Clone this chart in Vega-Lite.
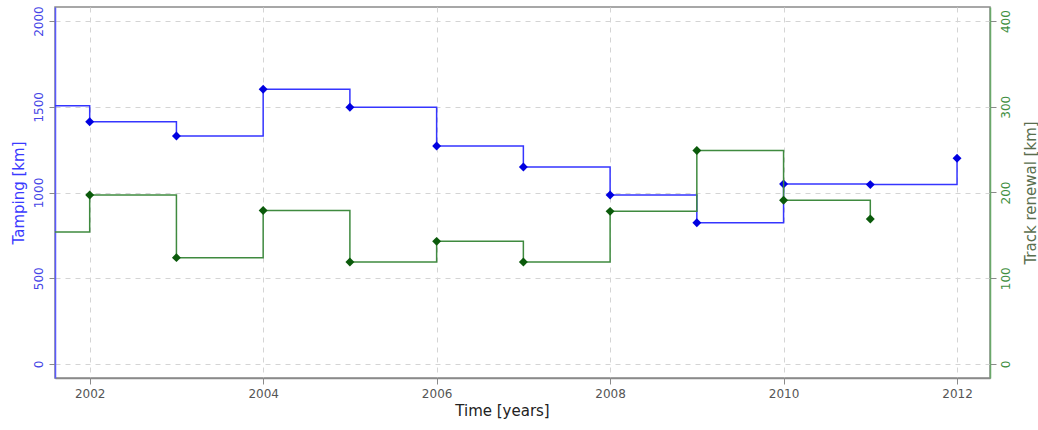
{
  "$schema": "https://vega.github.io/schema/vega-lite/v6.json",
  "width": 935,
  "height": 371,
  "autosize": {"type": "none"},
  "padding": {"left": 55, "top": 7, "right": 48, "bottom": 52},
  "background": "white",
  "config": {
    "font": "DejaVu Sans",
    "view": {"stroke": "#8a8a8a", "strokeWidth": 1.5},
    "axis": {
      "labelFontSize": 12,
      "titleFontSize": 15,
      "titleFontWeight": "normal",
      "tickColor": "#8a8a8a",
      "tickSize": 6,
      "gridColor": "#d4d4d4",
      "gridDash": [5, 5],
      "gridWidth": 1
    }
  },
  "data": {
    "values": [
      {"year": 2001, "tamping": 1506, "renewal": 154},
      {"year": 2002, "tamping": 1413, "renewal": 197},
      {"year": 2003, "tamping": 1330, "renewal": 124},
      {"year": 2004, "tamping": 1602, "renewal": 179},
      {"year": 2005, "tamping": 1497, "renewal": 119},
      {"year": 2006, "tamping": 1271, "renewal": 143},
      {"year": 2007, "tamping": 1149, "renewal": 119},
      {"year": 2008, "tamping": 985, "renewal": 178},
      {"year": 2009, "tamping": 824, "renewal": 249},
      {"year": 2010, "tamping": 1050, "renewal": 191},
      {"year": 2011, "tamping": 1046, "renewal": 169},
      {"year": 2012, "tamping": 1200, "renewal": null}
    ]
  },
  "encoding": {
    "x": {
      "field": "year",
      "type": "quantitative",
      "scale": {"domain": [2001.6, 2012.38], "nice": false, "zero": false},
      "axis": {
        "title": "Time [years]",
        "values": [2002, 2004, 2006, 2008, 2010, 2012],
        "format": "d",
        "labelColor": "#555555",
        "labelPadding": 4,
        "domainColor": "#8a8a8a",
        "domainWidth": 1.5,
        "titleColor": "#222222",
        "titlePadding": 4,
        "titleX": 447,
        "grid": true
      }
    }
  },
  "layer": [
    {
      "encoding": {
        "y": {
          "field": "tamping",
          "type": "quantitative",
          "scale": {"domain": [-82, 2082], "nice": false, "zero": false},
          "axis": {
            "orient": "left",
            "title": "Tamping [km]",
            "values": [0, 500, 1000, 1500, 2000],
            "format": "d",
            "labelAngle": -90,
            "labelAlign": "center",
            "labelBaseline": "bottom",
            "labelPadding": 4,
            "labelColor": "#4646e6",
            "domainColor": "#5a5aff",
            "domainWidth": 1.5,
            "titleColor": "#3a3aff",
            "titlePadding": 6,
            "grid": true
          }
        }
      },
      "layer": [
        {
          "mark": {"type": "line", "interpolate": "step-after", "color": "#3535ff", "strokeWidth": 1.5, "clip": true}
        },
        {
          "mark": {"type": "point", "shape": "diamond", "filled": true, "size": 80, "color": "#0000e0", "opacity": 1, "clip": true}
        }
      ]
    },
    {
      "transform": [{"filter": "isValid(datum.renewal)"}],
      "encoding": {
        "y": {
          "field": "renewal",
          "type": "quantitative",
          "scale": {"domain": [-16.4, 416.4], "nice": false, "zero": false},
          "axis": {
            "orient": "right",
            "title": "Track renewal [km]",
            "values": [0, 100, 200, 300, 400],
            "format": "d",
            "labelAngle": -90,
            "labelAlign": "center",
            "labelBaseline": "top",
            "labelPadding": 4,
            "labelColor": "#3f8f3f",
            "domainColor": "#6aa86a",
            "domainWidth": 1.5,
            "titleColor": "#5a6e4e",
            "titleAngle": 270,
            "titleBaseline": "top",
            "titlePadding": 12,
            "grid": false
          }
        }
      },
      "layer": [
        {
          "mark": {"type": "line", "interpolate": "step-after", "color": "#3f8a3f", "strokeWidth": 1.5, "clip": true}
        },
        {
          "mark": {"type": "point", "shape": "diamond", "filled": true, "size": 80, "color": "#0b5a0b", "opacity": 1, "clip": true}
        }
      ]
    }
  ],
  "resolve": {"scale": {"y": "independent"}}
}
